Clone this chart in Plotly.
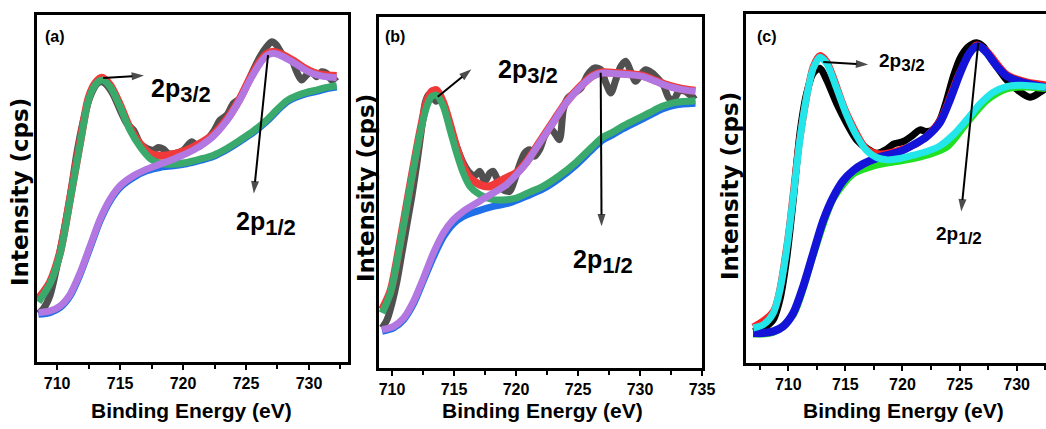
import plotly.graph_objects as go

# ---------------- Panel (a) ----------------
a_data_x = [708.52, 708.92, 709.44, 709.97, 710.50, 711.03, 711.56, 712.09, 712.62, 713.15,
            713.54, 713.94, 714.47, 715.00, 715.53, 716.06, 716.59, 717.12, 717.65, 718.04,
            718.44, 718.84, 719.37, 720.03, 720.69, 721.22, 721.75, 722.41, 722.94, 723.47,
            724.00, 724.52, 725.05, 725.58, 726.11, 726.64, 727.04, 727.43, 727.83, 728.23,
            728.62, 729.02, 729.42, 729.81, 730.21, 730.61, 731.01, 731.40, 731.80, 732.20]
a_data_y = [145, 160, 200, 285, 385, 495, 625, 725, 795, 833,
            840, 830, 800, 755, 715, 695, 655, 640, 635, 643,
            638, 625, 625, 635, 660, 645, 660, 690, 725, 740,
            775, 790, 830, 875, 915, 945, 960, 950, 925, 910,
            905, 870, 845, 860, 870, 855, 870, 865, 845, 855]

a_env_x = [708.52, 709.44, 710.24, 711.03, 711.83, 712.49, 713.02, 713.54, 714.21, 715.00,
           715.79, 716.59, 717.38, 718.17, 719.23, 720.29, 721.35, 722.41, 723.47, 724.52,
           725.32, 726.11, 726.64, 727.17, 727.96, 728.76, 729.55, 730.34, 731.14, 732.20]
a_env_y = [190, 240, 330, 490, 660, 790, 835, 852, 830, 770,
           700, 653, 625, 618, 623, 635, 655, 682, 727, 790,
           850, 900, 923, 930, 920, 903, 883, 868, 860, 857]

a_p1_x = [708.52, 709.44, 710.24, 711.03, 711.83, 712.49, 713.02, 713.54, 714.21, 715.00,
          715.79, 716.59, 717.38, 718.17, 719.23, 720.29, 721.35, 722.41, 723.47, 724.52,
          725.58, 726.64, 727.43, 728.23, 729.02, 729.81, 730.61, 731.40, 732.20]
a_p1_y = [180, 235, 325, 485, 655, 785, 830, 845, 825, 765,
          695, 645, 610, 595, 593, 598, 608, 620, 640, 665,
          692, 725, 755, 783, 798, 808, 815, 823, 828]

a_bg_x = [708.52, 709.44, 710.24, 711.03, 711.83, 712.62, 713.41, 714.21, 715.00, 716.06,
          717.12, 718.17, 719.23, 720.29, 721.35, 722.41, 723.47, 724.52, 725.58, 726.64,
          727.43, 728.23, 729.02, 729.81, 730.61, 731.40, 732.20]
a_bg_y = [143, 148, 163, 198, 263, 343, 423, 483, 523, 553,
          573, 583, 588, 594, 604, 616, 636, 661, 688, 721,
          751, 779, 794, 804, 811, 819, 824]

a_p2_x = [708.52, 709.44, 710.24, 711.03, 711.83, 712.62, 713.41, 714.21, 715.00, 716.06,
          717.12, 718.17, 719.23, 720.29, 721.35, 722.41, 723.47, 724.52, 725.32, 726.11,
          726.64, 727.17, 727.96, 728.76, 729.55, 730.34, 731.14, 732.20]
a_p2_y = [148, 153, 168, 203, 268, 348, 428, 488, 528, 558,
          578, 593, 608, 625, 647, 677, 723, 787, 845, 895,
          918, 925, 915, 898, 879, 864, 856, 852]

# ---------------- Panel (b) ----------------
b_data_x = [709.20, 709.60, 710.00, 710.40, 710.80, 711.20, 711.60, 712.01, 712.41, 712.67,
            712.94, 713.21, 713.56, 713.88, 714.28, 714.68, 715.21, 715.75, 716.28, 716.68,
            717.09, 717.49, 717.89, 718.16, 718.56, 718.96, 719.49, 719.89, 720.29, 720.70,
            721.10, 721.50, 721.90, 722.30, 722.70, 723.10, 723.50, 723.82, 724.17, 724.71,
            725.24, 725.78, 726.31, 726.84, 727.25, 727.65, 728.05, 728.45, 728.85, 729.25,
            729.65, 730.05, 730.45, 730.99, 731.52, 731.93, 732.33, 732.73, 733.13, 733.66,
            734.20, 734.47]
b_data_y = [120, 145, 195, 260, 345, 430, 515, 615, 725, 795,
            820, 815, 800, 810, 775, 725, 665, 615, 585, 577,
            590, 560, 585, 590, 560, 535, 530, 565, 610, 645,
            655, 635, 655, 695, 720, 705, 685, 775, 810, 825,
            840, 880, 900, 895, 855, 825, 865, 905, 920, 890,
            860, 880, 895, 885, 865, 845, 810, 805, 830, 830,
            815, 820]

b_env_x = [709.20, 709.87, 710.67, 711.47, 712.27, 712.81, 713.21, 713.61, 714.14, 714.68,
           715.21, 715.75, 716.28, 717.09, 717.89, 718.69, 719.49, 720.03, 720.83, 721.90,
           722.97, 724.04, 725.11, 726.18, 726.98, 728.05, 729.12, 730.19, 731.26, 732.33,
           733.40, 734.47]
b_env_y = [175, 230, 380, 550, 710, 800, 830, 833, 795, 730,
           660, 605, 570, 550, 545, 560, 575, 585, 617, 677,
           737, 797, 842, 877, 887, 885, 882, 877, 862, 847,
           837, 832]

b_p1_x = [709.20, 709.87, 710.67, 711.47, 712.27, 712.81, 713.21, 713.61, 714.14, 714.68,
          715.21, 715.75, 716.28, 717.09, 718.16, 719.22, 720.03, 720.83, 722.17, 723.50,
          724.84, 726.18, 726.98, 727.78, 728.58, 729.65, 730.72, 731.79, 732.86, 734.47]
b_p1_y = [165, 225, 375, 545, 705, 785, 815, 818, 785, 715,
          645, 585, 545, 520, 505, 505, 510, 523, 545, 577,
          617, 665, 692, 707, 725, 745, 765, 785, 797, 802]

b_bg_x = [709.20, 710.13, 710.94, 711.74, 712.54, 713.34, 714.14, 714.95, 715.75, 716.82,
          718.16, 719.49, 720.83, 722.17, 723.50, 724.84, 726.18, 726.98, 727.78, 728.58,
          729.65, 730.72, 731.79, 732.86, 734.47]
b_bg_y = [110, 120, 145, 193, 263, 333, 393, 433, 455, 470,
          485, 495, 515, 537, 569, 609, 657, 684, 699, 717,
          737, 757, 777, 789, 794]

b_p2_x = [709.20, 710.13, 710.94, 711.74, 712.54, 713.34, 714.14, 714.95, 715.75, 716.82,
          718.16, 719.22, 720.03, 720.83, 721.90, 722.97, 724.04, 725.11, 726.18, 726.98,
          728.05, 729.12, 730.19, 731.26, 732.33, 733.40, 734.47]
b_p2_y = [115, 125, 150, 200, 270, 345, 405, 445, 470, 495,
          525, 550, 580, 615, 675, 735, 795, 840, 875, 885,
          883, 880, 875, 860, 845, 835, 830]

# ---------------- Panel (c) ----------------
c_data_x = [706.93, 707.81, 708.69, 709.27, 709.85, 710.44, 711.02, 711.61, 712.19, 712.77,
            713.36, 714.23, 715.11, 715.99, 716.86, 717.74, 718.61, 719.20, 720.07, 720.95,
            721.53, 722.12, 722.70, 723.28, 723.87, 724.45, 725.04, 725.77, 726.50, 727.08,
            727.66, 728.25, 729.12, 730.00, 731.17, 732.04, 732.57]
c_data_y = [95, 105, 130, 190, 310, 490, 690, 810, 870, 885,
            850, 780, 720, 670, 645, 630, 642, 657, 665, 685,
            700, 695, 702, 730, 790, 860, 915, 950, 962, 950,
            920, 890, 850, 822, 798, 813, 825]

c_env_x = [706.93, 708.69, 709.85, 711.02, 712.19, 712.77, 713.36, 715.11, 716.86, 718.03,
           719.78, 721.53, 723.28, 725.04, 726.50, 727.37, 729.12, 730.88, 732.57]
c_env_y = [108, 155, 345, 675, 890, 923, 905, 750, 643, 628,
           640, 665, 728, 875, 955, 937, 867, 844, 835]

c_p1_x = [706.93, 707.81, 708.69, 709.27, 709.85, 710.44, 711.02, 711.61, 712.19, 712.77,
          713.36, 714.23, 715.11, 715.99, 716.86, 717.74, 718.61, 719.78, 720.95, 722.12,
          723.28, 724.45, 725.62, 726.79, 727.96, 729.12, 730.29, 731.46, 732.57]
c_p1_y = [105, 115, 150, 220, 340, 500, 670, 800, 885, 918,
          900, 825, 745, 682, 638, 617, 610, 614, 624, 635,
          652, 685, 730, 778, 813, 830, 834, 832, 828]

c_bg_x = [706.93, 708.69, 710.44, 712.19, 713.94, 715.69, 717.15, 718.61, 720.37, 722.12,
          723.87, 725.62, 727.37, 729.12, 730.88, 732.57]
c_bg_y = [87, 92, 145, 325, 493, 568, 588, 600, 610, 624,
          648, 720, 788, 823, 829, 824]

c_p2_x = [706.93, 707.81, 708.69, 709.56, 710.44, 711.31, 712.19, 713.07, 713.94, 714.82,
          715.69, 716.57, 717.74, 718.61, 719.78, 720.95, 722.12, 723.28, 724.16, 725.04,
          725.77, 726.35, 726.79, 727.37, 728.25, 729.12, 730.29, 731.46, 732.57]
c_p2_y = [90, 90, 95, 110, 150, 230, 330, 428, 498, 548,
          578, 598, 615, 624, 635, 655, 680, 722, 790, 870,
          925, 948, 950, 932, 892, 862, 845, 835, 828]

tick_vals = [710, 715, 720, 725, 730, 735]

SANS = "Liberation Sans, Arial, sans-serif"
WIDE = "DejaVu Sans, Verdana, sans-serif"

fig = go.Figure()


def add_line(x, y, color, width, axis):
    fig.add_trace(go.Scatter(
        x=x, y=y, mode="lines", xaxis="x" + axis, yaxis="y" + axis,
        line=dict(color=color, width=width, shape="spline", smoothing=0.8),
        showlegend=False, hoverinfo="skip"))


# panel (a)
add_line(a_data_x, a_data_y, "#505050", 7, "")
add_line(a_env_x, a_env_y, "#f03a3a", 8, "")
add_line(a_bg_x, a_bg_y, "#1f6fe8", 7, "")
add_line(a_p1_x, a_p1_y, "#3aaa6c", 7, "")
add_line(a_p2_x, a_p2_y, "#b277e0", 7, "")

# panel (b)
add_line(b_data_x, b_data_y, "#505050", 7, "2")
add_line(b_env_x, b_env_y, "#f03a3a", 8, "2")
add_line(b_bg_x, b_bg_y, "#1f6fe8", 7, "2")
add_line(b_p1_x, b_p1_y, "#3aaa6c", 7, "2")
add_line(b_p2_x, b_p2_y, "#b277e0", 7, "2")

# panel (c)
add_line(c_data_x, c_data_y, "#000000", 7, "3")
add_line(c_env_x, c_env_y, "#ff2020", 7, "3")
add_line(c_bg_x, c_bg_y, "#22e022", 7, "3")
add_line(c_p2_x, c_p2_y, "#1414d8", 8, "3")
add_line(c_p1_x, c_p1_y, "#22e6ea", 7, "3")

xcommon = dict(
    tickvals=tick_vals, ticks="outside", ticklen=5, tickwidth=2, tickcolor="black",
    showline=True, linewidth=3, linecolor="black", mirror=True, automargin=False,
    showgrid=False, zeroline=False, ticklabelstandoff=0,
    tickfont=dict(family=SANS, size=16, color="black", weight="bold"),
    minor=dict(dtick=2.5, tick0=710, ticks="outside", ticklen=4, tickwidth=2, tickcolor="black"),
)
ycommon = dict(showticklabels=False, ticks="", showline=True, linewidth=3, linecolor="black",
               showgrid=False, zeroline=False, automargin=False)

W, H = 1046, 429


def dom_x(l, r):
    return [l / W, r / W]


def dom_y(t, b):
    return [(H - b) / H, (H - t) / H]


fig.update_layout(
    width=W, height=H, margin=dict(l=0, r=0, t=0, b=0, autoexpand=False),
    paper_bgcolor="white", plot_bgcolor="white",
    xaxis=dict(domain=dom_x(37, 348), range=[708.4, 733.1], anchor="y", **xcommon),
    yaxis=dict(domain=dom_y(15, 362), range=[0, 1040], anchor="x", mirror=True, **ycommon),
    xaxis2=dict(domain=dom_x(379, 702), range=[708.95, 735.0], anchor="y2", **xcommon),
    yaxis2=dict(domain=dom_y(17, 368), range=[0, 1053], anchor="x2", mirror=True, **ycommon),
    xaxis3=dict(domain=dom_x(746, 1046), range=[706.3, 732.57], anchor="y3", **xcommon),
    yaxis3=dict(domain=dom_y(14, 363), range=[0, 1048], anchor="x3", mirror=False, **ycommon),
)

ann = []


def arrow(axis, x0, y0, x1, y1):
    # straight pointer with a filled head at its far end
    fig.add_trace(go.Scatter(
        x=[x0, x1], y=[y0, y1], mode="lines+markers", xaxis="x" + axis, yaxis="y" + axis,
        line=dict(color="black", width=2),
        marker=dict(symbol="arrow", size=[0, 13], angleref="previous", color="black",
                    line=dict(width=0)),
        showlegend=False, hoverinfo="skip", cliponaxis=False))


def label(axis, x, y, frac, size, subsize):
    text = "2p<sub><span style='font-size:%dpx'>%s</span></sub>" % (subsize, frac)
    ann.append(dict(
        x=x, y=y, xref="x" + axis, yref="y" + axis, text=text, showarrow=False,
        xanchor="left", yanchor="middle",
        font=dict(family=SANS, size=size, color="black", weight="bold")))


# peak markers, panel (a)
arrow("", 713.65, 851, 716.9, 859)
arrow("", 726.75, 920, 725.62, 505)
label("", 717.3, 815, "3/2", 25, 22)
label("", 724.05, 415, "1/2", 25, 22)

# peak markers, panel (b)
arrow("2", 713.69, 814, 716.4, 896)
arrow("2", 726.83, 886, 726.90, 425)
label("2", 718.35, 890, "3/2", 25, 22)
label("2", 724.45, 320, "1/2", 25, 22)

# peak markers, panel (c)
arrow("3", 713.06, 904, 717.0, 896)
arrow("3", 726.64, 961, 725.15, 455)
label("3", 717.75, 902, "3/2", 19, 17)
label("3", 722.8, 383, "1/2", 19, 17)

# panel tags
for tag, px in (("(a)", 43), ("(b)", 383), ("(c)", 755)):
    ann.append(dict(x=px / W, y=(H - 37) / H, xref="paper", yref="paper", text=tag,
                    showarrow=False, xanchor="left", yanchor="middle",
                    font=dict(family=SANS, size=16, color="black", weight="bold")))

# axis titles
for cx in (191.5, 542, 903):
    ann.append(dict(x=cx / W, y=(H - 410) / H, xref="paper", yref="paper",
                    text="Binding Energy (eV)", showarrow=False,
                    xanchor="center", yanchor="middle",
                    font=dict(family=SANS, size=21, color="black", weight="bold")))
for cx, cy in ((20, 192), (366, 188), (730, 186)):
    ann.append(dict(x=cx / W, y=(H - cy) / H, xref="paper", yref="paper",
                    text="Intensity (cps)", showarrow=False, textangle=-90,
                    xanchor="center", yanchor="middle",
                    font=dict(family=WIDE, size=23, color="black", weight="bold")))

fig.update_layout(annotations=ann)
fig.write_html("out.html")
